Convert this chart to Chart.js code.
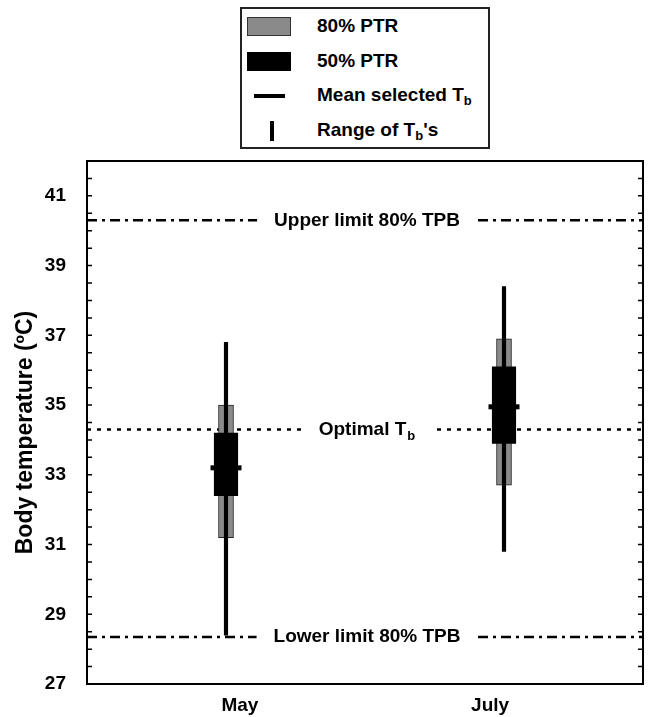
<!DOCTYPE html>
<html>
<head>
<meta charset="utf-8">
<script src="https://cdn.jsdelivr.net/npm/chart.js@4.4.1/dist/chart.umd.min.js"></script>
<style>
  body { margin: 0; background: #fff; overflow: hidden; }
  #wrap { position: relative; width: 650px; height: 717px; }
  #chart { display: block; }
  #legend {
    position: absolute; left: 240px; top: 7px; width: 246px; height: 138px;
    border: 2px solid #222; background: #fff;
    font: bold 19px "Liberation Sans", Arial, sans-serif; color: #000;
  }
  .row { position: absolute; left: 0; height: 35px; width: 100%; }
  .sw { position: absolute; }
  .txt { position: absolute; left: 75px; top: 50%; transform: translateY(-55%); white-space: nowrap; }
  .txt sub { font-size: 13px; vertical-align: -4px; }
</style>
</head>
<body>
<div id="wrap">
  <canvas id="chart"></canvas>
  <div id="legend"></div>
</div>
<script>
// ---- data ----
const months = ['May', 'July'];
const monthX = [1, 3];
const rangeMin = [28.4, 30.8];
const rangeMax = [36.8, 38.4];
const ptr80Lo = [31.2, 32.7];
const ptr80Hi = [35.0, 36.9];
const ptr50Lo = [32.4, 33.9];
const ptr50Hi = [34.2, 36.1];
const meanTb = [33.2, 34.95];

const yLabelValues = [27, 29, 31, 33, 35, 37, 39, 41];
const yTitle = 'Body temperature (\u00BAC)';

const refNames = ['Upper limit 80% TPB', 'Optimal T|b', 'Lower limit 80% TPB'];
const refValues = [40.3, 34.3, 28.35];
const refDash = [[10, 5, 3, 5], [4, 6], [10, 5, 3, 5]];

const legendNames = ['80% PTR', '50% PTR', 'Mean selected T<sub>b</sub>', 'Range of T<sub>b</sub>\'s'];

const FONT = '"Liberation Sans", Arial, sans-serif';

// legend box (html, so the subscripts stay real text)
const legendEl = document.getElementById('legend');
const swatches = [
  'left:5px;top:8px;width:42px;height:17px;background:#8a8a8a;border:1.5px solid #333;',
  'left:5px;top:8px;width:44px;height:19px;background:#000;',
  'left:12px;top:15px;width:31px;height:4px;background:#000;',
  'left:28px;top:7px;width:3.5px;height:20px;background:#000;'
];
legendNames.forEach((name, i) => {
  const row = document.createElement('div');
  row.className = 'row';
  row.style.top = (i * 35) + 'px';
  row.innerHTML = `<div class="sw" style="${swatches[i]}"></div><div class="txt">${name}</div>`;
  legendEl.appendChild(row);
});

function pts(lo, hi) {
  return monthX.map((x, i) => ({ x: x, y: [lo[i], hi[i]] }));
}

// frame, inward ticks, axis title and reference lines
const decorPlugin = {
  id: 'decor',
  beforeDatasetsDraw(chart) {
    const { ctx, chartArea: a, scales } = chart;
    const y = scales.y;
    ctx.save();
    refValues.forEach((v, i) => {
      const py = y.getPixelForValue(v);
      ctx.strokeStyle = '#000';
      ctx.lineWidth = 2.5;
      ctx.setLineDash(refDash[i]);
      ctx.beginPath();
      ctx.moveTo(a.left, py);
      ctx.lineTo(a.right, py);
      ctx.stroke();
      ctx.setLineDash([]);

      const parts = refNames[i].split('|');
      ctx.font = 'bold 19px ' + FONT;
      const w1 = ctx.measureText(parts[0]).width;
      let w2 = 0;
      if (parts[1]) {
        ctx.font = 'bold 13px ' + FONT;
        w2 = ctx.measureText(parts[1]).width + 1;
      }
      const cx = (a.left + a.right) / 2 + 2;
      const x0 = cx - (w1 + w2) / 2;
      ctx.fillStyle = '#fff';
      ctx.fillRect(x0 - 17, py - 6, w1 + w2 + 34, 12);
      ctx.fillStyle = '#000';
      ctx.textBaseline = 'middle';
      ctx.textAlign = 'left';
      ctx.font = 'bold 19px ' + FONT;
      ctx.fillText(parts[0], x0, py);
      if (parts[1]) {
        ctx.font = 'bold 13px ' + FONT;
        ctx.fillText(parts[1], x0 + w1 + 1, py + 7);
      }
    });

    // y axis title, a little below the middle of the axis as in the figure
    ctx.save();
    ctx.translate(26, (a.top + a.bottom) / 2 + 10);
    ctx.rotate(-Math.PI / 2);
    ctx.font = 'bold 23px ' + FONT;
    ctx.textAlign = 'center';
    ctx.textBaseline = 'middle';
    ctx.fillText(yTitle, 0, 0);
    ctx.restore();
    ctx.restore();
  },
  afterDatasetsDraw(chart) {
    const { ctx, chartArea: a, scales } = chart;
    const y = scales.y;
    ctx.save();
    ctx.strokeStyle = '#000';
    ctx.lineWidth = 1.5;
    y.ticks.forEach(t => {
      const py = y.getPixelForValue(t.value);
      ctx.beginPath();
      ctx.moveTo(a.left, py); ctx.lineTo(a.left + 5, py);
      ctx.moveTo(a.right, py); ctx.lineTo(a.right - 5, py);
      ctx.stroke();
    });
    ctx.lineWidth = 2;
    ctx.strokeRect(a.left, a.top, a.right - a.left, a.bottom - a.top);
    ctx.restore();
  }
};

new Chart(document.getElementById('chart'), {
  type: 'bar',
  data: {
    datasets: [
      {
        type: 'scatter',
        label: 'Mean selected Tb',
        data: monthX.map((x, i) => ({ x: x, y: meanTb[i] })),
        pointStyle: 'line',
        radius: 15.5,
        borderWidth: 5,
        borderColor: '#000',
        order: 0
      },
      {
        label: '50% PTR',
        data: pts(ptr50Lo, ptr50Hi),
        backgroundColor: '#000',
        barThickness: 23.5,
        grouped: false,
        order: 1
      },
      {
        label: 'Range of Tb\'s',
        data: pts(rangeMin, rangeMax),
        backgroundColor: '#000',
        barThickness: 3.5,
        grouped: false,
        order: 2
      },
      {
        label: '80% PTR',
        data: pts(ptr80Lo, ptr80Hi),
        backgroundColor: '#8a8a8a',
        borderColor: '#222',
        borderWidth: 1,
        borderSkipped: false,
        barThickness: 15,
        grouped: false,
        order: 3
      }
    ]
  },
  options: {
    responsive: true,
    maintainAspectRatio: false,
    animation: false,
    layout: { autoPadding: false, padding: { top: 161, right: 7, left: 0, bottom: 0 } },
    plugins: { legend: { display: false }, tooltip: { enabled: false } },
    scales: {
      x: {
        type: 'linear',
        min: 0,
        max: 4,
        offset: false,
        grid: { display: false, drawTicks: false },
        border: { display: false },
        afterBuildTicks: s => { s.ticks = [{ value: 1.1 }, { value: 2.9 }]; },
        afterFit: s => { s.height = 33; s.paddingLeft = 0; s.paddingRight = 0; },
        ticks: {
          autoSkip: false,
          maxRotation: 0,
          padding: 10,
          color: '#000',
          font: { family: FONT, size: 19, weight: 'bold' },
          callback: (v, i) => months[i]
        }
      },
      y: {
        min: 27,
        max: 42,
        grid: { display: false, drawTicks: false },
        border: { display: false },
        afterFit: s => { s.width = 87; },
        ticks: {
          stepSize: 0.5,
          autoSkip: false,
          padding: 21,
          color: '#000',
          font: { family: FONT, size: 19, weight: 'bold' },
          callback: v => yLabelValues.includes(v) ? String(v) : ''
        }
      }
    }
  },
  plugins: [decorPlugin]
});
</script>
</body>
</html>
